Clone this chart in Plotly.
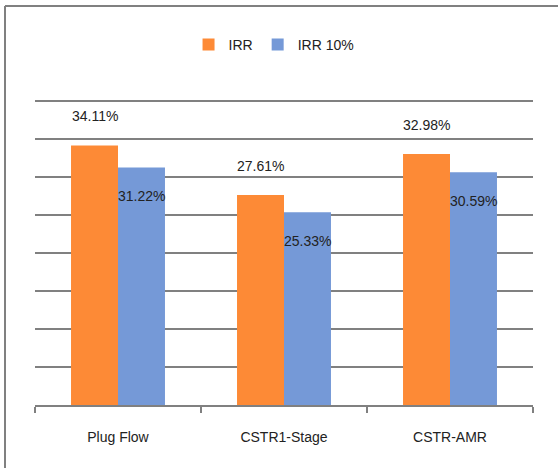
import plotly.graph_objects as go

categories = ["Plug Flow", "CSTR1-Stage", "CSTR-AMR"]
irr = [34.11, 27.61, 32.98]
irr10 = [31.22, 25.33, 30.59]
series_names = ["IRR", "IRR 10%"]
colors = ["#FD8A36", "#7599D7"]

fig = go.Figure()
fig.add_trace(go.Bar(x=categories, y=irr, name=series_names[0], marker=dict(color=colors[0], line=dict(width=0))))
fig.add_trace(go.Bar(x=categories, y=irr10, name=series_names[1], marker=dict(color=colors[1], line=dict(width=0))))

font = dict(family="Liberation Sans, Arial, sans-serif", size=14, color="#222222")

annotations = []
for c, v in zip(categories, irr):
    annotations.append(dict(x=c, y=v, text=f"{v:.2f}%", showarrow=False, xshift=-23.5, yshift=29, font=font))
for c, v in zip(categories, irr10):
    annotations.append(dict(x=c, y=v, text=f"{v:.2f}%", showarrow=False, xshift=23.5, yshift=-29, font=font))

# plot area: x 35..533, y 93..405 (pixels)
plot_w = 498.0
plot_h = 312.0
fig.update_layout(
    width=558, height=468,
    margin=dict(l=35, r=25, t=93, b=63),
    paper_bgcolor="white", plot_bgcolor="white",
    barmode="group", bargap=0.434, bargroupgap=0,
    font=font,
    showlegend=True,
    legend=dict(orientation="h", x=0.48, xanchor="center", y=(405 - 45) / plot_h, yanchor="middle",
                font=dict(family="Liberation Sans, Arial, sans-serif", size=14, color="#222222"),
                itemwidth=30, tracegroupgap=0),
    annotations=annotations,
    shapes=[
        dict(type="line", xref="paper", yref="paper", x0=(5 - 35) / plot_w, x1=(5 - 35) / plot_w,
             y0=-63 / plot_h, y1=(405 - 6) / plot_h, line=dict(color="#808080", width=2), layer="below"),
        dict(type="line", xref="paper", yref="paper", x0=(5 - 35) / plot_w, x1=(558 - 35) / plot_w,
             y0=(405 - 6) / plot_h, y1=(405 - 6) / plot_h, line=dict(color="#808080", width=2), layer="below"),
    ],
    xaxis=dict(showline=True, linecolor="#808080", linewidth=2, ticks="outside", tickson="boundaries",
               ticklen=6, tickwidth=2, tickcolor="#808080", showgrid=False,
               ticklabelstandoff=18, tickfont=font),
    yaxis=dict(range=[0, 41], dtick=5, showgrid=True, gridcolor="#808080", gridwidth=2,
               showticklabels=False, zeroline=False, showline=False, ticks=""),
)

fig.write_html("out.html", config={"displayModeBar": False},
               post_script=("document.body.style.margin='0';"
                            "document.body.style.overflow='hidden';"
                            "document.documentElement.style.overflow='hidden';"))
